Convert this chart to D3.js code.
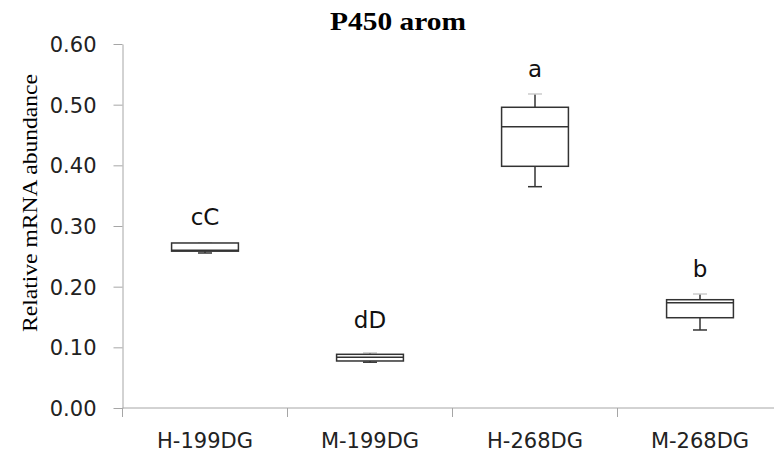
<!DOCTYPE html>
<html>
<head>
<meta charset="utf-8">
<script src="https://cdn.jsdelivr.net/npm/d3@7/dist/d3.min.js"></script>
<style>
  body { margin: 0; background: #fff; }
  .axis path, .axis line { stroke: #a6a6a6; }
  .axis text { font-family: "DejaVu Sans", sans-serif; font-size: 21px; fill: #222; }
</style>
</head>
<body>
<script>
// data
var groups = ["H-199DG", "M-199DG", "H-268DG", "M-268DG"];
var whiskerLow  = [0.2555, 0.0755, 0.3648, 0.1286];
var q1          = [0.2585, 0.0775, 0.3984, 0.1488];
var medians     = [0.2600, 0.0836, 0.4637, 0.1736];
var q3          = [0.2720, 0.0885, 0.4957, 0.1785];
var whiskerHigh = [0.2720, 0.0908, 0.5176, 0.1879];
var letters     = ["cC", "dD", "a", "b"];
var letterPos   = [0.302, 0.132, 0.546, 0.216];
var yTicks      = [0, 0.1, 0.2, 0.3, 0.4, 0.5, 0.6];

var W = 774, H = 460;
var margin = {top: 44, left: 122.5, bottom: 52};

var svg = d3.select("body").append("svg")
    .attr("width", W)
    .attr("height", H);

// scales
var x = d3.scaleBand().domain(groups).range([margin.left, margin.left + 4 * 165]).padding(0);
var y = d3.scaleLinear().domain([0, 0.6]).range([H - margin.bottom, margin.top]);

var boxW = x.bandwidth() * 0.405;
var capW = 14;

// y axis
svg.append("g")
    .attr("class", "axis")
    .attr("transform", "translate(" + margin.left + ",0)")
    .call(d3.axisLeft(y).tickValues(yTicks).tickFormat(d3.format(".2f")).tickSize(9).tickSizeOuter(0).tickPadding(17))
    .selectAll("text").attr("dy", "0.36em");

// x axis line + category dividers
svg.append("line")
    .attr("x1", margin.left).attr("x2", W)
    .attr("y1", y(0)).attr("y2", y(0))
    .style("stroke", "#a6a6a6");
svg.selectAll(".divider").data(groups).enter().append("line")
    .attr("class", "divider")
    .attr("x1", function(d) { return x(d); }).attr("x2", function(d) { return x(d); })
    .attr("y1", y(0)).attr("y2", y(0) + 9)
    .style("stroke", "#a6a6a6");
svg.selectAll(".xlab").data(groups).enter().append("text")
    .attr("class", "xlab")
    .attr("x", function(d) { return x(d) + x.bandwidth() / 2; })
    .attr("y", y(0) + 40)
    .attr("text-anchor", "middle")
    .style("font-family", "DejaVu Sans, sans-serif")
    .style("font-size", "21px")
    .style("fill", "#222")
    .text(function(d) { return d; });

// boxes
var g = svg.selectAll(".box").data(groups).enter().append("g").attr("class", "box");
g.each(function(d, i) {
    var cx = x(d) + x.bandwidth() / 2;
    var s = d3.select(this);
    // whiskers
    s.append("line").attr("x1", cx).attr("x2", cx)
        .attr("y1", y(q3[i])).attr("y2", y(whiskerHigh[i]))
        .style("stroke", "#333").style("stroke-width", 1.5);
    s.append("line").attr("x1", cx).attr("x2", cx)
        .attr("y1", y(q1[i])).attr("y2", y(whiskerLow[i]))
        .style("stroke", "#333").style("stroke-width", 1.5);
    s.append("line").attr("x1", cx - capW / 2).attr("x2", cx + capW / 2)
        .attr("y1", y(whiskerHigh[i])).attr("y2", y(whiskerHigh[i]))
        .style("stroke", "#ccc").style("stroke-width", 1.5);
    s.append("line").attr("x1", cx - capW / 2).attr("x2", cx + capW / 2)
        .attr("y1", y(whiskerLow[i])).attr("y2", y(whiskerLow[i]))
        .style("stroke", "#333").style("stroke-width", 1.5);
    // box
    s.append("rect")
        .attr("x", cx - boxW / 2)
        .attr("y", y(q3[i]))
        .attr("width", boxW)
        .attr("height", y(q1[i]) - y(q3[i]))
        .style("fill", "#fff").style("stroke", "#333").style("stroke-width", 1.5);
    s.append("line").attr("x1", cx - boxW / 2).attr("x2", cx + boxW / 2)
        .attr("y1", y(medians[i])).attr("y2", y(medians[i]))
        .style("stroke", "#333").style("stroke-width", 1.5);
    // significance letters
    s.append("text")
        .attr("x", cx)
        .attr("y", y(letterPos[i]))
        .attr("text-anchor", "middle")
        .style("font-family", "DejaVu Sans, sans-serif")
        .style("font-size", "23px")
        .style("fill", "#111")
        .text(letters[i]);
});

// title
svg.append("text")
    .attr("x", 398)
    .attr("y", 30)
    .attr("text-anchor", "middle")
    .attr("textLength", 136)
    .attr("lengthAdjust", "spacingAndGlyphs")
    .style("font-family", "Liberation Serif, serif")
    .style("font-weight", "bold")
    .style("font-size", "26px")
    .text("P450 arom");

// y label
svg.append("text")
    .attr("transform", "translate(37,203) rotate(-90)")
    .attr("text-anchor", "middle")
    .attr("textLength", 258)
    .attr("lengthAdjust", "spacingAndGlyphs")
    .style("font-family", "Liberation Serif, serif")
    .style("font-size", "20px")
    .text("Relative mRNA abundance");
</script>
</body>
</html>
